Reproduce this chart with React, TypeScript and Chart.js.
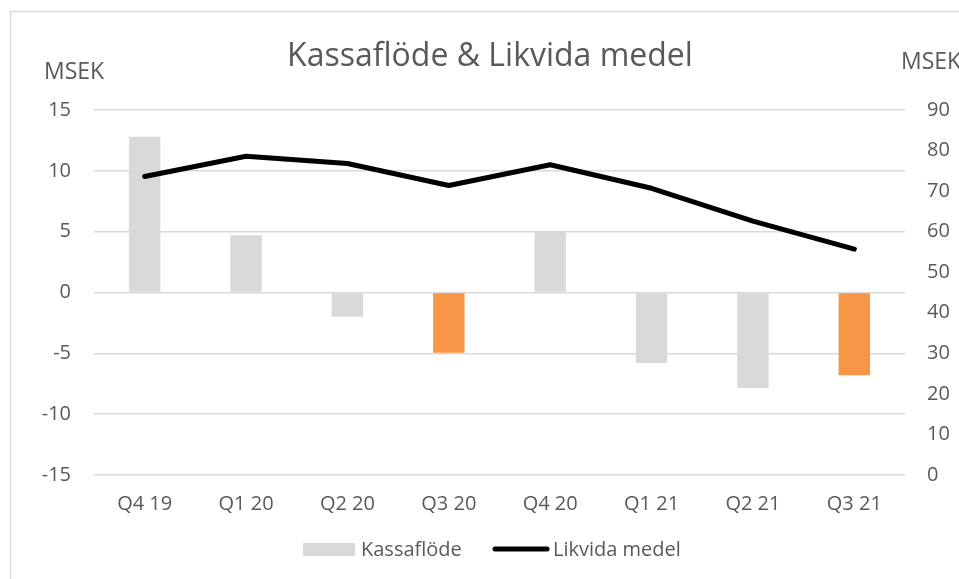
import React, { useEffect, useRef } from "react";
import { Chart, registerables } from "chart.js";

Chart.register(...registerables);

const categories = ["Q4 19", "Q1 20", "Q2 20", "Q3 20", "Q4 20", "Q1 21", "Q2 21", "Q3 21"];
const kassaflode = [12.8, 4.7, -2.0, -4.95, 5.0, -5.8, -7.85, -6.8];
const likvidaMedel = [73.6, 78.6, 76.8, 71.4, 76.5, 70.7, 62.6, 55.7];
const barColors = ["#d9d9d9", "#d9d9d9", "#d9d9d9", "#f79646", "#d9d9d9", "#d9d9d9", "#d9d9d9", "#f79646"];
const leftTicks = [-15, -10, -5, 0, 5, 10, 15];
const rightTicks = [0, 10, 20, 30, 40, 50, 60, 70, 80, 90];
const titleText = "Kassaflöde & Likvida medel";
const axisUnit = "MSEK";
const seriesNames = ["Kassaflöde", "Likvida medel"];

const FONT = "'Open Sans', sans-serif";
const TEXT = "#595959";
const GRID = "#d9d9d9";

const overlay = {
  id: "overlay",
  beforeDraw(chart: any) {
    const ctx = chart.ctx;
    ctx.save();
    ctx.strokeStyle = "#d9d9d9";
    ctx.lineWidth = 1.5;
    ctx.strokeRect(10.5, 11.5, 1100, 1100);
    ctx.restore();
  },
  afterDraw(chart: any) {
    const ctx = chart.ctx;
    ctx.save();
    ctx.fillStyle = TEXT;
    ctx.textBaseline = "middle";
    // title
    ctx.font = `32px ${FONT}`;
    ctx.textAlign = "center";
    ctx.fillText(titleText, 490, 57);
    // unit labels
    ctx.font = `23px ${FONT}`;
    ctx.textAlign = "left";
    ctx.fillText(axisUnit, 44, 72);
    ctx.fillText(axisUnit, 901, 62);
    // legend
    ctx.font = `20px ${FONT}`;
    ctx.fillStyle = barColors[0];
    ctx.fillRect(303, 543, 52, 13);
    ctx.fillStyle = TEXT;
    ctx.fillText(seriesNames[0], 361, 550);
    ctx.strokeStyle = "#000";
    ctx.lineWidth = 5;
    ctx.lineCap = "round";
    ctx.beginPath();
    ctx.moveTo(495, 549);
    ctx.lineTo(547, 549);
    ctx.stroke();
    ctx.fillText(seriesNames[1], 553, 550);
    ctx.restore();
  },
};

export default function App() {
  const ref = useRef<HTMLCanvasElement | null>(null);
  useEffect(() => {
    if (!ref.current) return;
    const chart = new Chart(ref.current, {
      type: "bar",
      data: {
        labels: categories,
        datasets: [
          {
            type: "line",
            label: seriesNames[1],
            data: likvidaMedel,
            yAxisID: "y1",
            borderColor: "#000",
            borderWidth: 5,
            pointRadius: 0,
            borderCapStyle: "round",
            borderJoinStyle: "round",
            tension: 0,
            order: 0,
          } as any,
          {
            type: "bar",
            label: seriesNames[0],
            data: kassaflode,
            yAxisID: "y",
            backgroundColor: barColors,
            borderWidth: 0,
            categoryPercentage: 1,
            barPercentage: 0.31,
            order: 1,
          },
        ],
      },
      options: {
        responsive: false,
        animation: false,
        layout: { padding: { top: 110, bottom: 0, left: 0, right: 0 } },
        plugins: { legend: { display: false }, title: { display: false }, tooltip: { enabled: false } },
        scales: {
          x: {
            grid: { display: false, drawTicks: false },
            border: { display: false },
            ticks: { color: TEXT, font: { family: FONT, size: 20 }, padding: 17, maxRotation: 0 },
            afterFit: (s: any) => { s.height = 104; },
          },
          y: {
            position: "left",
            min: -15,
            max: 15,
            afterBuildTicks: (s: any) => { s.ticks = leftTicks.map((v) => ({ value: v })); },
            grid: { color: GRID, lineWidth: 1.5, drawTicks: false },
            border: { display: false },
            ticks: { color: TEXT, font: { family: FONT, size: 20 }, padding: 23 },
            afterFit: (s: any) => { s.width = 94; },
          },
          y1: {
            position: "right",
            min: 0,
            max: 90,
            afterBuildTicks: (s: any) => { s.ticks = rightTicks.map((v) => ({ value: v })); },
            grid: { display: false, drawTicks: false },
            border: { display: false },
            ticks: { color: TEXT, font: { family: FONT, size: 20 }, padding: 22 },
            afterFit: (s: any) => { s.width = 54; },
          },
        },
      } as any,
      plugins: [overlay],
    });
    return () => chart.destroy();
  }, []);
  return (
    <div style={{ position: "fixed", left: 0, top: 0, width: 959, height: 579, background: "#fff" }}>
      <canvas ref={ref} width={959} height={579} />
    </div>
  );
}
